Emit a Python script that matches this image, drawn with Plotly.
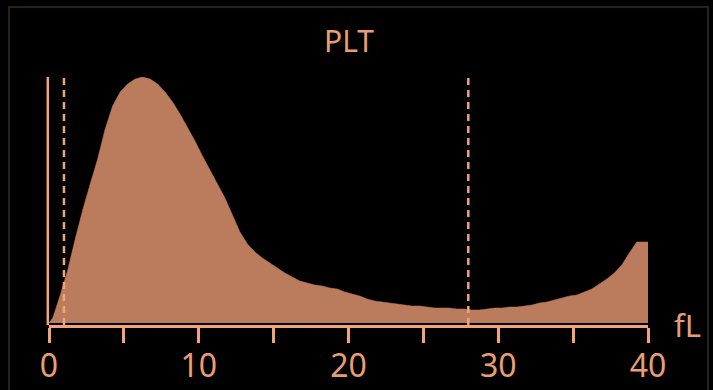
import plotly.graph_objects as go

# Platelet volume histogram (fL)
fl = [0.0, 0.25, 0.75, 1.25, 1.75, 2.25, 2.75, 3.25, 3.75, 4.25, 4.75,
      5.25, 5.75, 6.25, 6.75, 7.25, 7.75, 8.25, 8.75, 9.25, 9.75,
      10.25, 10.75, 11.25, 11.75, 12.25, 12.75, 13.25, 13.75, 14.25, 14.75,
      15.25, 15.75, 16.25, 16.75, 17.25, 17.75, 18.25, 18.75, 19.25, 19.75,
      20.25, 20.75, 21.25, 21.75, 22.25, 22.75, 23.25, 23.75, 24.25, 24.75,
      25.25, 25.75, 26.25, 26.75, 27.25, 27.75, 28.25, 28.75, 29.25, 29.75,
      30.25, 30.75, 31.25, 31.75, 32.25, 32.75, 33.25, 33.75, 34.25, 34.75,
      35.25, 35.75, 36.25, 36.75, 37.25, 37.75, 38.25, 38.75, 39.25, 39.75, 40.0]
counts = [0, 5, 28, 53, 84, 113, 139, 164, 194, 217, 231,
          239, 244, 246, 244, 239, 231, 221, 209, 196, 182,
          167, 153, 140, 125, 108, 91, 79, 71, 65, 60,
          55, 50, 46, 42, 40, 38, 37, 35, 34, 31,
          29, 27, 24, 22, 21, 20, 19, 18, 17, 17,
          16, 15, 15, 15, 14, 14, 13, 13, 14, 15,
          15, 16, 16, 17, 18, 20, 21, 23, 25, 27,
          28, 31, 34, 39, 44, 50, 58, 70, 81, 81, 81]
lower_limit = 1.0
upper_limit = 28.0
tick_vals = [0, 10, 20, 30, 40]
tick_text = ["0", "10", "20", "30", "40"]

LINE = "#F2A377"
FILL = "#BA7C5C"
TEXT = "#E99E72"
FONT = "Noto Sans"
YTOP = 246

fig = go.Figure()
fig.add_trace(go.Scatter(
    x=fl, y=counts, mode="lines", fill="tozeroy",
    fillcolor=FILL, line=dict(color=FILL, width=0.5),
    hoverinfo="skip", showlegend=False,
))

# solid line at x=0 (paper-referenced so it is not clipped)
fig.add_shape(type="line", x0=-0.002, x1=-0.002, y0=0, y1=1,
              xref="paper", yref="paper",
              line=dict(color=LINE, width=2.5), layer="above")
for xv in (lower_limit, upper_limit):
    fig.add_shape(type="line", x0=xv, x1=xv, y0=-2, y1=YTOP, xref="x", yref="y",
                  line=dict(color=LINE, width=2.5, dash="7px,5px"), layer="above")

# faint outer frame
fig.add_shape(type="rect", xref="paper", yref="paper",
              x0=(9 - 49) / 599, x1=(708 - 49) / 599,
              y0=-0.4, y1=1 + (77 - 7) / 248,
              line=dict(color="#3b2a1f", width=1.5), layer="below")

fig.add_annotation(text="PLT", xref="paper", yref="paper", x=0.5, y=1 + (77 - 40) / 248,
                   showarrow=False, xanchor="center", yanchor="middle",
                   font=dict(family=FONT, size=30, color=TEXT))
fig.add_annotation(text="fL", xref="paper", yref="paper", x=1.066, y=0.0,
                   showarrow=False, xanchor="center", yanchor="middle",
                   font=dict(family=FONT, size=31, color=TEXT))

fig.update_layout(
    width=713, height=390,
    margin=dict(l=49, r=65, t=77, b=65, autoexpand=False),
    paper_bgcolor="black", plot_bgcolor="black",
    xaxis=dict(range=[0, 40], showgrid=False, zeroline=False, automargin=False,
               showline=True, linecolor=LINE, linewidth=2.5,
               ticks="outside", ticklen=15, tickwidth=2.5, tickcolor=LINE,
               tickvals=tick_vals, ticktext=tick_text, ticklabelstandoff=-4,
               tickfont=dict(family=FONT, size=32, color=TEXT),
               minor=dict(tickvals=[5, 15, 25, 35], ticks="outside",
                          ticklen=15, tickwidth=2.5, tickcolor=LINE)),
    yaxis=dict(range=[-2, YTOP], visible=False, showgrid=False, zeroline=False),
)

fig.write_html("out.html")
